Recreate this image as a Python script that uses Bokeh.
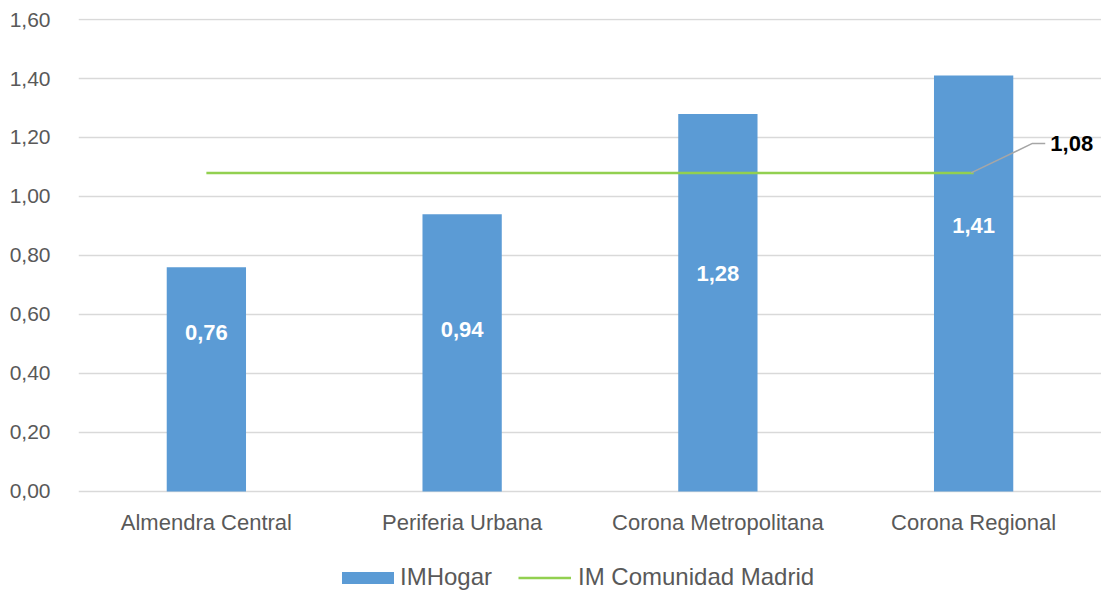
from bokeh.plotting import figure
from bokeh.models import ColumnDataSource, FactorRange, Range1d, Legend, LegendItem, CustomJSTickFormatter, FixedTicker
from bokeh.core.properties import value
from bokeh.embed import file_html
from bokeh.resources import INLINE

categories = ["Almendra Central", "Periferia Urbana", "Corona Metropolitana", "Corona Regional"]
im_hogar = [0.76, 0.94, 1.28, 1.41]
im_madrid = 1.08
bar_labels = ["0,76", "0,94", "1,28", "1,41"]
label_y = [0.54, 0.55, 0.74, 0.90]
y_ticks = [0.0, 0.2, 0.4, 0.6, 0.8, 1.0, 1.2, 1.4, 1.6]

FONT = "Liberation Sans"
GRAY = "#595959"
BLUE = "#5B9BD5"
GREEN = "#92D050"

p = figure(width=1101, height=594, output_backend="svg", toolbar_location=None,
           x_range=FactorRange(*categories, range_padding=0), y_range=Range1d(-0.3492, 1.6034),
           min_border_left=78, min_border_right=0, min_border_top=18, min_border_bottom=0)
p.outline_line_color = None
p.background_fill_color = "white"

src = ColumnDataSource(dict(cat=categories, v=im_hogar, lab=bar_labels, ly=label_y,
                            m=[im_madrid] * len(categories)))
bars = p.vbar(x="cat", top="v", width=0.31, source=src, fill_color=BLUE, line_color=None)
line = p.line(x="cat", y="m", source=src, line_color=GREEN, line_width=2.5)

p.text(x="cat", y="ly", text="lab", source=src, text_color="white", text_font=value(FONT),
       text_font_size="22px", text_font_style="bold", text_align="center", text_baseline="middle")

# leader line for the reference value label
last = categories[-1]
p.line(x=[(last, -0.01), (last, 0.23), (last, 0.28)], y=[im_madrid, im_madrid + 0.10, im_madrid + 0.10],
       line_color="#A6A6A6", line_width=1.5)
p.text(x=[(last, 0.30)], y=[im_madrid + 0.10], text=[f"{im_madrid:.2f}".replace(".", ",")],
       text_color="black", text_font=value(FONT), text_font_size="22px", text_font_style="bold",
       text_align="left", text_baseline="middle")

p.yaxis.ticker = FixedTicker(ticks=y_ticks)
p.yaxis.formatter = CustomJSTickFormatter(code="return tick.toFixed(2).replace('.', ',');")
p.yaxis.axis_line_color = None
p.yaxis.major_tick_line_color = None
p.yaxis.minor_tick_line_color = None
p.yaxis.major_label_text_font = FONT
p.yaxis.major_label_text_font_size = "21px"
p.yaxis.major_label_text_color = GRAY
p.yaxis.major_label_standoff = 22

p.xaxis.fixed_location = 0
p.xaxis.axis_line_color = None
p.xaxis.major_tick_line_color = None
p.xaxis.major_label_text_font = FONT
p.xaxis.major_label_text_font_size = "22px"
p.xaxis.major_label_text_color = GRAY
p.xaxis.major_label_standoff = 13

p.xgrid.grid_line_color = None
p.ygrid.grid_line_color = "#D9D9D9"
p.ygrid.grid_line_width = 1.5

common = dict(orientation="horizontal", border_line_color=None, background_fill_alpha=0,
              label_text_font=FONT, label_text_font_size="24px", label_text_color=GRAY,
              margin=0, padding=0)
leg1 = Legend(items=[LegendItem(label="IMHogar", renderers=[bars])],
              location=(257, 3), glyph_width=65, glyph_height=15, label_standoff=0, **common)
leg2 = Legend(items=[LegendItem(label="IM Comunidad Madrid", renderers=[line])],
              location=(440, 3), glyph_width=53, glyph_height=15, label_standoff=7, **common)
p.add_layout(leg1)
p.add_layout(leg2)

open("out.html", "w").write(file_html(p, INLINE))
